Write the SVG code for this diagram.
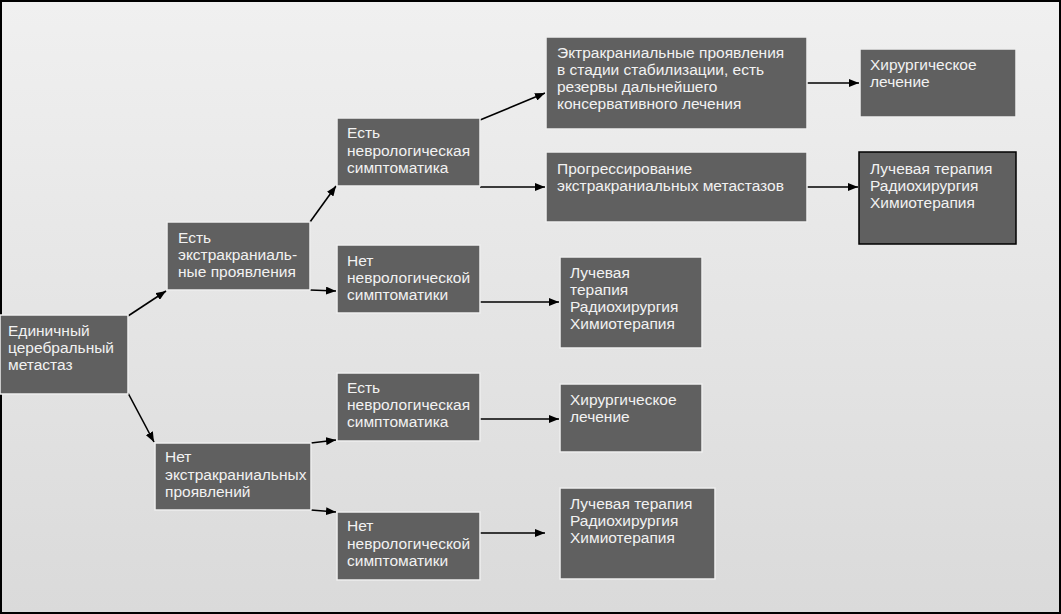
<svg xmlns="http://www.w3.org/2000/svg" width="1061" height="614" viewBox="0 0 1061 614">
<defs>
<linearGradient id="bg" x1="0" y1="0" x2="0" y2="1">
<stop offset="0" stop-color="#f0f0f0"/>
<stop offset="1" stop-color="#dadada"/>
</linearGradient>
<marker id="ah" markerWidth="10" markerHeight="8" refX="10" refY="4" orient="auto" markerUnits="userSpaceOnUse">
<path d="M0,0 L10,4 L0,8 Z" fill="#000"/>
</marker>
</defs>
<style>
.box{fill:#606060;stroke:#eeeeee;stroke-width:1.5}
.dark{stroke:#000}
text{font-family:"Liberation Sans",Arial,sans-serif;font-size:15.5px;fill:#f2f2f2}
.c{fill:none;stroke:#000;stroke-width:1.6;marker-end:url(#ah)}
</style>
<rect x="1" y="1" width="1059" height="612" fill="url(#bg)" stroke="#000" stroke-width="2"/>
<g id="connectors">
<path class="c" d="M128,316 L166,291"/>
<path class="c" d="M128,393 L154,442"/>
<path class="c" d="M310,222 L336,186"/>
<path class="c" d="M310,290 L336,291"/>
<path class="c" d="M480,120 L545,93"/>
<path class="c" d="M480,187 L545,187"/>
<path class="c" d="M807,83 L859,83"/>
<path class="c" d="M807,187 L858,187"/>
<path class="c" d="M480,302 L559,302"/>
<path class="c" d="M311,443 L336,440"/>
<path class="c" d="M311,510 L336,512"/>
<path class="c" d="M480,419 L559,419"/>
<path class="c" d="M480,533 L545,533"/>
</g>
<g id="n1"><rect class="box" x="0" y="315" width="128" height="79"/>
<text x="8" y="336">Единичный</text><text x="8" y="353">церебральный</text><text x="8" y="370">метастаз</text></g>
<g id="n2"><rect class="box" x="167" y="222" width="143" height="68"/>
<text x="178" y="243">Есть</text><text x="178" y="260">экстракраниаль-</text><text x="178" y="277">ные проявления</text></g>
<g id="n3"><rect class="box" x="155" y="443" width="156" height="67"/>
<text x="165" y="462">Нет</text><text x="165" y="480">экстракраниальных</text><text x="165" y="497">проявлений</text></g>
<g id="n4"><rect class="box" x="337" y="118" width="143" height="68"/>
<text x="347" y="138">Есть</text><text x="347" y="156">неврологическая</text><text x="347" y="173">симптоматика</text></g>
<g id="n5"><rect class="box" x="337" y="245" width="143" height="68"/>
<text x="347" y="266">Нет</text><text x="347" y="283">неврологической</text><text x="347" y="300">симптоматики</text></g>
<g id="n6"><rect class="box" x="560" y="257" width="142" height="91"/>
<text x="570" y="278">Лучевая</text><text x="570" y="295">терапия</text><text x="570" y="312">Радиохирургия</text><text x="570" y="329">Химиотерапия</text></g>
<g id="n7"><rect class="box" x="337" y="373" width="143" height="68"/>
<text x="347" y="393">Есть</text><text x="347" y="410">неврологическая</text><text x="347" y="427">симптоматика</text></g>
<g id="n8"><rect class="box" x="560" y="384" width="142" height="68"/>
<text x="570" y="405">Хирургическое</text><text x="570" y="422">лечение</text></g>
<g id="n9"><rect class="box" x="337" y="512" width="143" height="68"/>
<text x="347" y="531">Нет</text><text x="347" y="549">неврологической</text><text x="347" y="566">симптоматики</text></g>
<g id="n10"><rect class="box" x="560" y="488" width="155" height="91"/>
<text x="570" y="509">Лучевая терапия</text><text x="570" y="526">Радиохирургия</text><text x="570" y="543">Химиотерапия</text></g>
<g id="n11"><rect class="box" x="546" y="37" width="261" height="92"/>
<text x="557" y="58">Эктракраниальные проявления</text><text x="557" y="75">в стадии стабилизации, есть</text><text x="557" y="92">резервы дальнейшего</text><text x="557" y="109">консервативного лечения</text></g>
<g id="n12"><rect class="box" x="546" y="152" width="261" height="70"/>
<text x="557" y="174">Прогрессирование</text><text x="557" y="191">экстракраниальных метастазов</text></g>
<g id="n13"><rect class="box" x="860" y="49" width="156" height="68"/>
<text x="870" y="70">Хирургическое</text><text x="870" y="87">лечение</text></g>
<g id="n14"><rect class="box dark" x="859" y="152" width="157" height="92"/>
<text x="870" y="174">Лучевая терапия</text><text x="870" y="191">Радиохирургия</text><text x="870" y="208">Химиотерапия</text></g>
</svg>
